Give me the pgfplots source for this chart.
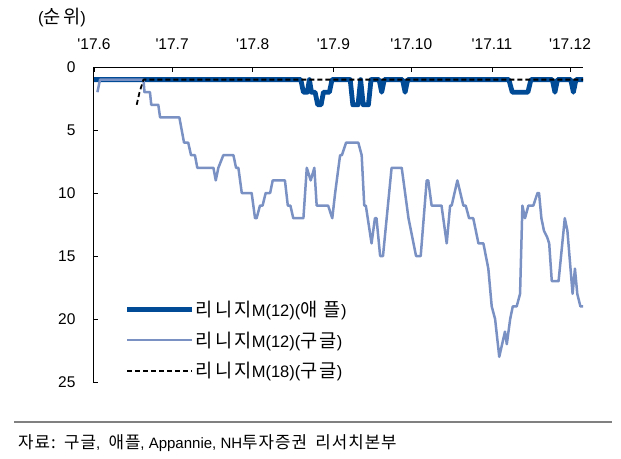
\documentclass[border=0pt]{standalone}
\usepackage{fontspec}
\setmainfont{Liberation Sans}[Ligatures=TeXOff]
\newfontfamily\kr{Noto Sans CJK KR}[Scale=1.12,LetterSpace=6]
\newfontfamily\krl{Noto Sans CJK KR}[Scale=1.13,LetterSpace=12]
\usepackage{pgfplots}
\pgfplotsset{compat=1.18}
\definecolor{apple}{RGB}{0,74,150}
\definecolor{goog}{RGB}{122,145,196}
\definecolor{rule}{RGB}{128,128,128}
\begin{document}
\begin{tikzpicture}
\path (0pt,0pt) rectangle (621pt,-458pt);
\begin{axis}[
  at={(93pt,-67pt)}, anchor=north west,
  scale only axis, width=490pt, height=315pt,
  xmin=-0.4, xmax=188, ymin=0, ymax=25, y dir=reverse,
  axis x line*=top, axis y line*=left,
  axis line style={line width=0.8pt},
  tick align=inside, major tick length=5pt,
  tick style={black, line width=0.8pt},
  xtick={0,30,61,92,122,153,183},
  xticklabels={'17.6,'17.7,'17.8,'17.9,'17.10,'17.11,'17.12},
  ytick={0,5,10,15,20,25},
  /pgf/number format/assume math mode=true,
  tick label style={font=\fontsize{15.5}{18}\selectfont},
  xticklabel style={yshift=14pt},
  yticklabel style={xshift=-14pt},
  legend style={draw=none, fill=none, inner sep=0pt, row sep=12pt,
    font=\fontsize{16.5}{19}\selectfont,
    nodes={inner sep=1pt, anchor=west},
    at={(axis description cs:0.065,0.262)}, anchor=north west},
  legend cell align=left,
  legend image code/.code={\draw[#1] (0pt,0pt) -- (65pt,0pt);},
]
\addplot[apple, line width=4.8pt, line join=round] coordinates {
(0,1) (79.5,1) (80.5,2) (82,2) (82.8,1) (83.6,2) (85,2) (86,3) (87.3,3) (88.2,2) (90.5,2) (91.5,1)
(98.5,1) (99.5,3) (101.5,3) (102.5,1) (103.5,3) (105.5,3) (106.5,1)
(109.6,1) (110.6,2) (111.6,1) (118.6,1) (119.6,2) (120.6,1)
(159.5,1) (160.8,2) (166.8,2) (168,1) (176.2,1) (177.2,2) (178.2,1)
(183.3,1) (184.3,2) (185.3,1) (188,1)
};
\addlegendentry{{\krl 리니지}M(12)({\krl 애 플})}
\addplot[goog, line width=2.5pt, line join=round] coordinates {
(1.3,2) (2.3,1) (19,1) (19.4,2) (21.5,2) (22,3) (24.7,3) (25.4,4) (32.8,4) (34.6,6) (36.2,6)
(37.3,7) (38.8,7) (39.7,8) (45.9,8) (46.8,9) (47.8,8) (49.7,7) (53.6,7) (54.6,8) (55.5,8)
(56.8,10) (60.6,10) (61.9,12) (62.5,12) (63.8,11) (64.8,11) (66,10) (67.7,10) (68.7,9) (73.4,9)
(74.5,11) (75.5,11) (76.6,12) (80.5,12) (81.8,8) (83.3,9) (84.7,8) (85.6,11) (90,11) (91.6,12)
(92.7,10) (94.6,7) (95.3,7) (96.9,6) (101.6,6) (102.9,7) (103.9,11) (104.5,11) (106.7,14)
(108,12) (108.6,12) (110,15) (111.1,15) (114.4,8) (118.3,8) (119.6,10) (120.9,12) (123.8,15)
(125.6,15) (127.9,9) (128.5,9) (129.8,11) (133.6,11) (135.6,14) (136.9,11) (137.5,11)
(139.7,9) (142,11) (142.9,11) (144.2,12) (145.8,12) (147.8,14) (149.7,14) (151.6,16)
(152.9,19) (154.2,20) (155.8,23) (158,21) (158.7,22) (160,20) (161,19) (162.5,19) (163.8,18)
(164.7,11) (165.7,12) (167,11) (168.9,11) (170.5,10) (171.1,10) (172,12) (173,13) (174.2,13.5)
(175,14) (176,17) (178.6,17) (181,12) (182,13) (184,18) (184.9,16) (185.8,18) (187,19) (188,19)
};
\addlegendentry{{\krl 리니지}M(12)({\krl 구글})}
\addplot[black, line width=1.8pt, dash pattern=on 5pt off 3pt] coordinates {
(16.4,3) (17.5,2) (19,1) (188,1)
};
\addlegendentry{{\krl 리니지}M(18)({\krl 구글})}
\end{axis}
\node[font=\fontsize{16.5}{19}\selectfont] at (62pt,-18pt) {({\krl 순위})};
\draw[rule, line width=1.5pt] (14pt,-422pt) -- (612pt,-422pt);
\node[anchor=west, inner sep=0pt, font=\fontsize{15}{18}\selectfont] at (18pt,-443pt)
  {{\kr 자료:}\ \ {\kr 구글},\ \ {\kr 애플}, Appannie, NH{\kr 투자증권}\ \ {\kr 리서치본부}};
\end{tikzpicture}
\end{document}
